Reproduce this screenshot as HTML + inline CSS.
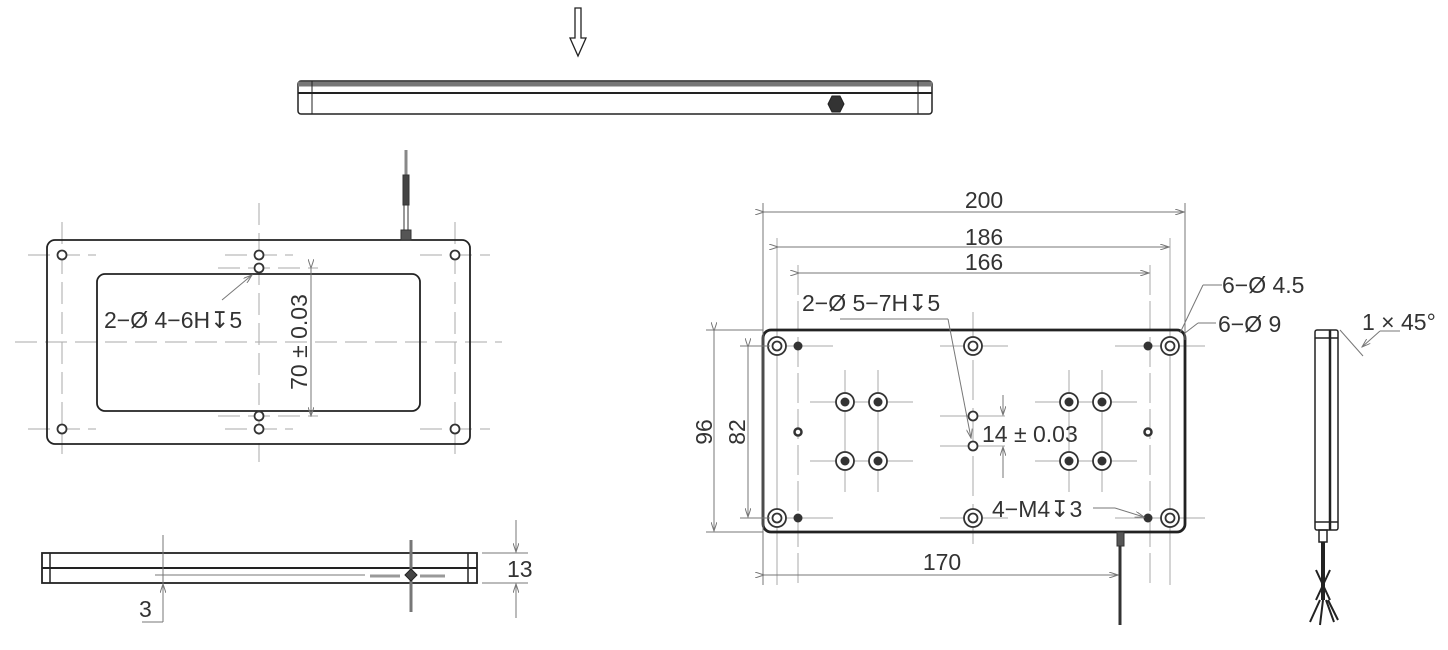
<!DOCTYPE html>
<html><head><meta charset="utf-8"><style>
html,body{margin:0;padding:0;background:#fff;}
svg{display:block;}
text{font-family:"Liberation Sans","DejaVu Sans",sans-serif;fill:#333;font-size:23px;}
</style></head><body>
<svg width="1448" height="650" viewBox="0 0 1448 650" xmlns="http://www.w3.org/2000/svg">
<defs>
<marker id="a" markerWidth="10" markerHeight="6" refX="9" refY="3" orient="auto" markerUnits="userSpaceOnUse"><path d="M0,0 L9,3 L0,6" fill="none" stroke="#777" stroke-width="1"/></marker>
</defs>
<path d="M575,8 H581 V38 H586 L578,56 L570,38 H575 Z" fill="none" stroke="#222" stroke-width="1.3"/>
<g stroke="#222" fill="none">
<rect x="298" y="81" width="634" height="33" rx="3" stroke-width="1.5"/>
<line x1="298" y1="84" x2="932" y2="84" stroke="#777" stroke-width="5"/>
<line x1="298" y1="93" x2="932" y2="93" stroke-width="2"/>
<line x1="312" y1="81" x2="312" y2="114"/><line x1="918" y1="81" x2="918" y2="114"/>
<polygon points="832,96 840,96 844,104 840,112 832,112 828,104" fill="#333"/>
</g>
<g stroke="#aaa" stroke-width="1" stroke-dasharray="22,8" fill="none">
<line x1="15" y1="342" x2="502" y2="342"/>
<line x1="259" y1="203" x2="259" y2="462"/>
<line x1="62" y1="222" x2="62" y2="462"/><line x1="455" y1="222" x2="455" y2="462"/>
<line x1="28" y1="255" x2="96" y2="255"/><line x1="420" y1="255" x2="490" y2="255"/>
<line x1="28" y1="429" x2="96" y2="429"/><line x1="420" y1="429" x2="490" y2="429"/>
<line x1="225" y1="255" x2="293" y2="255"/><line x1="218" y1="268" x2="318" y2="268"/>
<line x1="218" y1="416" x2="318" y2="416"/><line x1="225" y1="429" x2="293" y2="429"/>
</g>
<g stroke="#222" fill="none" stroke-width="1.8">
<rect x="47" y="240" width="423" height="204" rx="8"/>
<rect x="97" y="274" width="323" height="137" rx="8"/>
</g>
<g stroke="#333" fill="#fff" stroke-width="1.8">
<circle cx="62" cy="255" r="4.5"/><circle cx="455" cy="255" r="4.5"/><circle cx="62" cy="429" r="4.5"/><circle cx="455" cy="429" r="4.5"/>
<circle cx="259" cy="255" r="4.5"/><circle cx="259" cy="268" r="4.5"/><circle cx="259" cy="416" r="4.5"/><circle cx="259" cy="429" r="4.5"/>
</g>
<g stroke="#333" fill="none">
<line x1="406" y1="150" x2="406" y2="175" stroke="#888" stroke-width="3"/>
<rect x="403" y="175" width="6" height="30" fill="#444"/>
<rect x="404" y="205" width="4" height="25"/>
<rect x="401" y="230" width="10" height="10" fill="#555"/>
</g>
<line x1="311" y1="268" x2="311" y2="416" stroke="#777" marker-start="url(#a)" marker-end="url(#a)"/>
<line x1="222" y1="300" x2="252" y2="275" stroke="#777" marker-end="url(#a)"/>
<text x="104" y="328">2−Ø 4−6H↧5</text>
<text transform="translate(307,342) rotate(-90)" text-anchor="middle">70 ± 0.03</text>
<g stroke="#222" fill="none">
<rect x="42" y="553" width="435" height="30" stroke-width="1.8"/>
<line x1="42" y1="568" x2="477" y2="568" stroke-width="2"/>
<line x1="50" y1="553" x2="50" y2="583" stroke-width="1.5"/><line x1="468" y1="553" x2="468" y2="583" stroke-width="1.5"/>
<line x1="155" y1="575" x2="365" y2="575" stroke="#777"/>
<line x1="370" y1="576" x2="400" y2="576" stroke="#999" stroke-width="3"/>
<line x1="420" y1="576" x2="445" y2="576" stroke="#999" stroke-width="3"/>
<line x1="411" y1="540" x2="411" y2="612" stroke="#777" stroke-width="3"/>
<polygon points="405,575 411,569 417,575 411,581" fill="#444"/>
</g>
<g stroke="#777" fill="none">
<line x1="163" y1="535" x2="163" y2="622"/><line x1="142" y1="622" x2="163" y2="622"/>
<line x1="163" y1="605" x2="163" y2="584" marker-end="url(#a)"/>
<line x1="482" y1="553" x2="528" y2="553"/><line x1="482" y1="583" x2="528" y2="583"/>
<line x1="516" y1="520" x2="516" y2="552" marker-end="url(#a)"/>
<line x1="516" y1="618" x2="516" y2="584" marker-end="url(#a)"/>
</g>
<text x="139" y="617">3</text>
<text x="507" y="577">13</text>
<g stroke="#aaa" stroke-width="1" fill="none">
<line x1="777" y1="238" x2="777" y2="585"/><line x1="1170" y1="238" x2="1170" y2="585"/>
<line x1="798" y1="265" x2="798" y2="585" stroke-dasharray="30,6"/><line x1="1150" y1="265" x2="1150" y2="585" stroke-dasharray="30,6"/>
<line x1="973" y1="312" x2="973" y2="550" stroke-dasharray="40,8"/>
<line x1="845" y1="370" x2="845" y2="492"/><line x1="878" y1="370" x2="878" y2="492"/>
<line x1="1069" y1="370" x2="1069" y2="492"/><line x1="1102" y1="370" x2="1102" y2="492"/>
<line x1="810" y1="402" x2="913" y2="402"/><line x1="810" y1="461" x2="913" y2="461"/>
<line x1="1035" y1="402" x2="1137" y2="402"/><line x1="1035" y1="461" x2="1137" y2="461"/>
<line x1="940" y1="416" x2="1005" y2="416"/><line x1="940" y1="446" x2="1005" y2="446"/>
<line x1="740" y1="346" x2="833" y2="346"/><line x1="1115" y1="346" x2="1205" y2="346"/>
<line x1="740" y1="518" x2="833" y2="518"/><line x1="1115" y1="518" x2="1205" y2="518"/>
<line x1="940" y1="346" x2="1008" y2="346"/><line x1="940" y1="518" x2="1008" y2="518"/>
</g>
<rect x="763" y="330" width="422" height="202" rx="8" fill="none" stroke="#222" stroke-width="2.8"/>
<g stroke="#333" fill="#fff" stroke-width="1.8">
<g><circle cx="777" cy="346" r="9"/><circle cx="777" cy="346" r="4.5"/></g>
<g><circle cx="973" cy="346" r="9"/><circle cx="973" cy="346" r="4.5"/></g>
<g><circle cx="1170" cy="346" r="9"/><circle cx="1170" cy="346" r="4.5"/></g>
<g><circle cx="777" cy="518" r="9"/><circle cx="777" cy="518" r="4.5"/></g>
<g><circle cx="973" cy="518" r="9"/><circle cx="973" cy="518" r="4.5"/></g>
<g><circle cx="1170" cy="518" r="9"/><circle cx="1170" cy="518" r="4.5"/></g>
<circle cx="845" cy="402" r="9"/><circle cx="878" cy="402" r="9"/><circle cx="845" cy="461" r="9"/><circle cx="878" cy="461" r="9"/>
<circle cx="1069" cy="402" r="9"/><circle cx="1102" cy="402" r="9"/><circle cx="1069" cy="461" r="9"/><circle cx="1102" cy="461" r="9"/>
<circle cx="973" cy="416" r="4.5"/><circle cx="973" cy="446" r="4.5"/>
<circle cx="798" cy="432" r="3.5" stroke-width="2.5"/><circle cx="1148" cy="432" r="3.5" stroke-width="2.5"/>
</g>
<g fill="#333">
<circle cx="845" cy="402" r="4.5"/><circle cx="878" cy="402" r="4.5"/><circle cx="845" cy="461" r="4.5"/><circle cx="878" cy="461" r="4.5"/>
<circle cx="1069" cy="402" r="4.5"/><circle cx="1102" cy="402" r="4.5"/><circle cx="1069" cy="461" r="4.5"/><circle cx="1102" cy="461" r="4.5"/>
<circle cx="798" cy="346" r="4.5"/><circle cx="1148" cy="346" r="4.5"/><circle cx="798" cy="518" r="4.5"/><circle cx="1148" cy="518" r="4.5"/>
</g>
<g stroke="#777" fill="none">
<line x1="763" y1="203" x2="763" y2="585"/><line x1="1185" y1="203" x2="1185" y2="340"/>
<line x1="764" y1="212" x2="1184" y2="212" marker-start="url(#a)" marker-end="url(#a)"/>
<line x1="778" y1="247" x2="1169" y2="247" marker-start="url(#a)" marker-end="url(#a)"/>
<line x1="799" y1="273" x2="1149" y2="273" marker-start="url(#a)" marker-end="url(#a)"/>
<line x1="706" y1="330" x2="763" y2="330"/><line x1="706" y1="532" x2="763" y2="532"/>
<line x1="714" y1="331" x2="714" y2="531" marker-start="url(#a)" marker-end="url(#a)"/>
<line x1="740" y1="346" x2="770" y2="346"/><line x1="740" y1="518" x2="770" y2="518"/>
<line x1="748" y1="347" x2="748" y2="517" marker-start="url(#a)" marker-end="url(#a)"/>
<line x1="764" y1="575" x2="1118" y2="575" marker-start="url(#a)" marker-end="url(#a)"/>
<line x1="1003" y1="395" x2="1003" y2="415" marker-end="url(#a)"/>
<line x1="1003" y1="478" x2="1003" y2="447" marker-end="url(#a)"/>
<line x1="840" y1="319" x2="948" y2="319"/>
<line x1="948" y1="319" x2="971" y2="438" marker-end="url(#a)"/>
<line x1="1093" y1="508" x2="1115" y2="508"/><line x1="1115" y1="508" x2="1144" y2="517" marker-end="url(#a)"/>
<line x1="1222" y1="285" x2="1203" y2="285"/><line x1="1203" y1="285" x2="1180" y2="333"/>
<line x1="1216" y1="323" x2="1198" y2="323"/><line x1="1198" y1="323" x2="1185" y2="333"/>
<line x1="1400" y1="331" x2="1380" y2="331"/><line x1="1380" y1="331" x2="1362" y2="347" marker-end="url(#a)"/>
<line x1="1340" y1="330" x2="1363" y2="356"/>
</g>
<g stroke="#333" fill="none">
<rect x="1117" y="532" width="7" height="14" fill="#555"/>
<line x1="1120" y1="546" x2="1120" y2="625" stroke-width="3"/>
</g>
<text x="984" y="208" text-anchor="middle">200</text>
<text x="984" y="245" text-anchor="middle">186</text>
<text x="984" y="270" text-anchor="middle">166</text>
<text x="802" y="311">2−Ø 5−7H↧5</text>
<text x="982" y="442">14 ± 0.03</text>
<text x="992" y="517">4−M4↧3</text>
<text x="942" y="570" text-anchor="middle">170</text>
<text transform="translate(712,432) rotate(-90)" text-anchor="middle">96</text>
<text transform="translate(745,432) rotate(-90)" text-anchor="middle">82</text>
<text x="1222" y="293">6−Ø 4.5</text>
<text x="1218" y="332">6−Ø 9</text>
<text x="1362" y="330">1 × 45°</text>
<g stroke="#222" fill="none" stroke-width="1.5">
<rect x="1315" y="330" width="23" height="200" rx="2"/>
<line x1="1330" y1="330" x2="1330" y2="530" stroke-width="2.5"/>
<line x1="1315" y1="338" x2="1338" y2="338"/><line x1="1315" y1="522" x2="1338" y2="522"/>
<rect x="1319" y="530" width="8" height="12"/>
<line x1="1323" y1="542" x2="1323" y2="600" stroke-width="4"/>
<path d="M1316,570 L1330,600 M1330,570 L1316,600 M1320,600 L1310,622 M1323,600 L1320,625 M1326,600 L1334,622 M1328,600 L1338,620" stroke-width="2"/>
</g>
</svg>
</body></html>
